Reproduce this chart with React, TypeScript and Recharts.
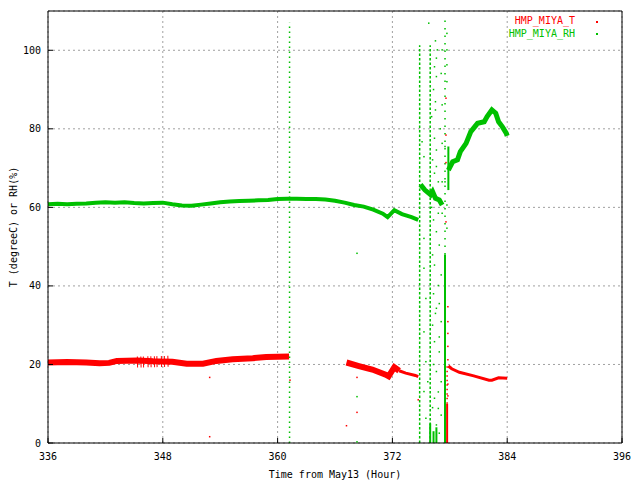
import React from "react";
import {
  ComposedChart,
  Line,
  Scatter,
  XAxis,
  YAxis,
  CartesianGrid,
} from "recharts";

type Pt = [number, number];

const X_TICKS = [336, 348, 360, 372, 384, 396];
const Y_TICKS = [0, 20, 40, 60, 80, 100];

// HMP_MIYA_T (red)
const T_SEG1: Pt[] = [
  [336, 20.5], [338, 20.6], [340, 20.5], [341.4, 20.3], [342.4, 20.4],
  [343.2, 20.9], [345.3, 21.0], [347, 20.8], [349, 20.7], [350.5, 20.2],
  [352.2, 20.2], [353.6, 20.9], [355.3, 21.3], [357.4, 21.6], [358.8, 21.9],
  [361.2, 22.0],
];
const T_FUZZ: Pt[] = [[345.3, 20.6], [348.7, 20.8]];
const T_SEG2: Pt[] = [
  [367.2, 20.5], [368.5, 19.6], [369.9, 18.7], [371.3, 17.4], [371.6, 17.0],
  [372.2, 19.3], [372.7, 18.4],
];
const T_SEG3: Pt[] = [[372.7, 18.4], [373.4, 17.8], [374.4, 17.2], [374.7, 16.9]];
const T_SEG4: Pt[] = [
  [377.85, 19.6], [378.2, 18.9], [379.0, 18.0], [380.5, 17.1], [382.1, 16.0],
  [382.4, 16.0], [383.1, 16.6], [384.0, 16.5],
];
const T_DOTS: Pt[] = [
  [352.9, 1.6], [352.9, 16.7], [361.3, 16.0], [367.2, 4.4], [368.3, 7.8],
  [368.3, 16.7], [374.7, 11.0], [377.6, 87.8], [377.6, 78.4], [377.6, 71.4],
  [377.6, 56.3], [377.8, 34.7], [377.8, 30.9], [377.8, 27.9], [377.8, 24.6],
  [377.8, 21.2], [377.8, 15.0], [377.8, 12.0],
];
const T_BARS: Pt[][] = [[[377.72, 0], [377.72, 10]]];
const T_DASHED: Pt[][] = [[[377.72, 10], [377.72, 20]]];

// HMP_MIYA_RH (green)
const RH_SEG1: Pt[] = [
  [336, 60.8], [337, 60.9], [338, 60.8], [339, 60.9], [340, 61.0], [341, 61.2],
  [342, 61.3], [343, 61.2], [344, 61.3], [345, 61.1], [346, 61.0], [347, 61.1],
  [348, 61.2], [349, 60.8], [350, 60.5], [351, 60.4], [352, 60.7], [353, 61.0],
  [354, 61.3], [355, 61.5], [356, 61.6], [357, 61.7], [358, 61.8], [359, 61.9],
  [360, 62.1], [361, 62.2], [362, 62.2], [363, 62.1], [364, 62.1], [365, 62.0],
  [366, 61.7], [367, 61.2], [368, 60.6], [369, 60.2], [370, 59.4], [371, 58.4],
  [371.5, 57.5], [372.2, 59.3], [373, 58.3], [374, 57.5], [374.7, 56.8],
];
const RH_SEG2: Pt[] = [
  [374.9, 64.9], [375.1, 65.3], [375.4, 64.4], [376.0, 63.2], [376.2, 64.0],
  [376.5, 62.3], [376.9, 61.9], [377.2, 60.6],
];
const RH_SEG3: Pt[] = [
  [377.85, 69.5], [378.3, 71.6], [378.8, 72.1], [379.1, 74.2], [379.7, 76.3],
  [380.2, 79.3], [380.9, 81.4], [381.6, 81.8], [381.9, 83.1], [382.4, 84.8],
  [382.8, 84.0], [383.1, 81.8], [383.5, 80.5], [383.9, 78.9], [384.0, 78.2],
];
const RH_DASHED: Pt[][] = [
  [[361.25, 0], [361.25, 107]],
  [[374.85, 0], [374.85, 101.3]],
  [[375.95, 0], [375.95, 101.3]],
  [[377.5, 48], [377.5, 108.6]],
];
const RH_BARS: Pt[][] = [
  [[377.5, 0], [377.5, 48]],
  [[377.85, 64.4], [377.85, 75.5]],
  [[375.95, 0], [375.95, 5]],
  [[376.3, 0], [376.3, 3]],
  [[376.6, 0], [376.6, 4]],
];
const RH_DOTS: Pt[] = [
  [375.8, 106.9], [376.5, 102.4], [376.7, 100.1], [377.2, 100.1], [377.7, 100.1],
  [377.7, 104.3], [376.6, 98.0], [376.4, 95.8], [376.6, 93.3], [377.1, 94.1],
  [377.7, 96.3], [377.7, 92.0], [376.5, 86.9], [377.2, 86.1], [376.5, 84.8],
  [376.1, 83.1], [376.4, 77.6], [377.2, 76.3], [377.5, 75.5], [376.6, 74.6],
  [376.2, 72.1], [376.6, 70.4], [376.4, 68.7], [377.2, 66.5], [376.8, 66.5],
  [377.5, 66.5], [377.7, 60.6], [376.8, 58.5], [377.2, 58.5], [376.3, 56.8],
  [377.7, 54.7], [375.1, 76.7], [375.3, 72.9], [375.3, 52.1], [376.6, 53.8],
  [376.9, 50.4], [375.3, 44.5], [376.4, 45.3], [377.1, 42.8], [375.5, 36.8],
  [376.6, 34.3], [377.1, 30.9], [375.3, 28.3], [376.4, 25.8], [376.9, 23.2],
  [375.5, 20.7], [376.6, 18.2], [377.1, 15.6], [375.3, 13.1], [376.4, 11.4],
  [376.8, 8.8], [375.5, 6.3], [376.6, 4.6], [377.1, 7.1], [375.7, 15.6],
  [376.2, 47.9], [376.3, 38.0], [376.8, 40.1], [376.2, 30.0], [376.9, 27.0],
  [376.3, 20.0], [376.8, 13.0], [376.2, 9.0], [376.9, 2.5], [376.1, 60.0],
  [376.7, 62.5], [377.0, 80.0], [376.3, 90.0], [376.9, 35.5], [376.5, 33.0],
  [368.3, 48.3], [368.3, 11.8], [368.3, 0.3],
];

const RED = "#ff0000";
const GREEN = "#00c000";
const FONT = "'DejaVu Sans Mono', monospace";

const pts = (a: Pt[]) => a.map(([x, y]) => ({ x, y }));

function YTitle(props: any) {
  const vb = props.viewBox || { x: 0, y: 10, height: 433 };
  const x = vb.x + 13;
  const y = vb.y + vb.height / 2;
  return (
    <text
      x={x}
      y={y}
      transform={`rotate(-90 ${x} ${y})`}
      textAnchor="middle"
      dominantBaseline="central"
      fontSize={10}
      fontFamily={FONT}
      fill="#000"
    >
      T (degreeC) or RH(%)
    </text>
  );
}

const dotShape = (color: string) => (p: any) =>
  <rect x={p.cx - 0.75} y={p.cy - 0.75} width={1.5} height={1.5} fill={color} />;

export default function App() {
  const tick = { fontSize: 10, fontFamily: FONT, fill: "#000" };
  const seg = (
    key: string,
    data: Pt[],
    color: string,
    width: number,
    dash?: string
  ) => (
    <Line
      key={key}
      data={pts(data)}
      dataKey="y"
      type="linear"
      stroke={color}
      strokeWidth={width}
      strokeDasharray={dash}
      dot={false}
      activeDot={false}
      isAnimationActive={false}
      legendType="none"
    />
  );

  return (
    <div style={{ position: "absolute", left: 0, top: 0, width: 640, height: 480, background: "#fff" }}>
      <ComposedChart
        width={640}
        height={480}
        margin={{ top: 10, right: 17, bottom: 0, left: 0 }}
        style={{ fontFamily: FONT }}
      >
        <CartesianGrid stroke="#a0a0a0" strokeDasharray="2 3" />
        <XAxis
          dataKey="x"
          type="number"
          domain={[336, 396]}
          ticks={X_TICKS}
          interval={0}
          height={37}
          tick={tick}
          tickSize={-5}
          tickMargin={15}
          axisLine={{ stroke: "#000" }}
          tickLine={{ stroke: "#000" }}
          label={{
            value: "Time from May13 (Hour)",
            position: "insideBottom",
            offset: 2,
            fontSize: 10,
            fontFamily: FONT,
            fill: "#000",
          }}
        />
        <XAxis
          xAxisId="top"
          orientation="top"
          dataKey="x"
          type="number"
          domain={[336, 396]}
          ticks={X_TICKS}
          interval={0}
          height={1}
          tick={false}
          tickSize={-5}
          axisLine={{ stroke: "#000" }}
          tickLine={{ stroke: "#000" }}
        />
        <YAxis
          dataKey="y"
          type="number"
          domain={[0, 110]}
          ticks={Y_TICKS}
          interval={0}
          width={48}
          tick={tick}
          tickSize={-5}
          tickMargin={12}
          axisLine={{ stroke: "#000" }}
          tickLine={{ stroke: "#000" }}
          label={<YTitle />}
        />
        <YAxis
          yAxisId="right"
          orientation="right"
          dataKey="y"
          type="number"
          domain={[0, 110]}
          ticks={Y_TICKS}
          interval={0}
          width={1}
          tick={false}
          tickSize={-5}
          axisLine={{ stroke: "#000" }}
          tickLine={{ stroke: "#000" }}
        />

        {seg("t1", T_SEG1, RED, 6)}
        {seg("tf", T_FUZZ, RED, 11, "1 2.5 1 1.5 1 3.5 1 2")}
        {seg("t2", T_SEG2, RED, 6)}
        {seg("t3", T_SEG3, RED, 3)}
        {seg("t4", T_SEG4, RED, 3)}

        {seg("rh1", RH_SEG1, GREEN, 4)}
        {RH_DASHED.map((d, i) =>
          seg(`rhd${i}`, d, GREEN, 1.5, i === 0 ? "1.5 3.5" : i === 3 ? "1.5 6" : "2.5 2")
        )}
        {RH_BARS.map((d, i) => seg(`rhb${i}`, d, GREEN, 2))}
        {seg("rh2", RH_SEG2, GREEN, 5)}
        {seg("rh3", RH_SEG3, GREEN, 5)}
        <Line
          xAxisId="top"
          yAxisId="right"
          data={pts(RH_SEG2)}
          dataKey="y"
          stroke="none"
          dot={false}
          activeDot={false}
          isAnimationActive={false}
          legendType="none"
        />

        {T_BARS.map((d, i) => seg(`tb${i}`, d, RED, 2))}
        {T_DASHED.map((d, i) => seg(`tdd${i}`, d, RED, 1.5, "1.5 3"))}

        <Scatter data={pts(RH_DOTS)} shape={dotShape(GREEN)} isAnimationActive={false} legendType="none" />
        <Scatter data={pts(T_DOTS)} shape={dotShape(RED)} isAnimationActive={false} legendType="none" />
      </ComposedChart>

      <div style={{ position: "absolute", right: 65, top: 15, fontFamily: FONT, fontSize: 10, lineHeight: "12px", color: RED, whiteSpace: "pre" }}>
        HMP_MIYA_T
      </div>
      <div style={{ position: "absolute", left: 596, top: 21, width: 1.5, height: 1.5, background: RED }} />
      <div style={{ position: "absolute", right: 65, top: 28, fontFamily: FONT, fontSize: 10, lineHeight: "12px", color: GREEN, whiteSpace: "pre" }}>
        HMP_MIYA_RH
      </div>
      <div style={{ position: "absolute", left: 596, top: 33, width: 1.5, height: 1.5, background: GREEN }} />
    </div>
  );
}
